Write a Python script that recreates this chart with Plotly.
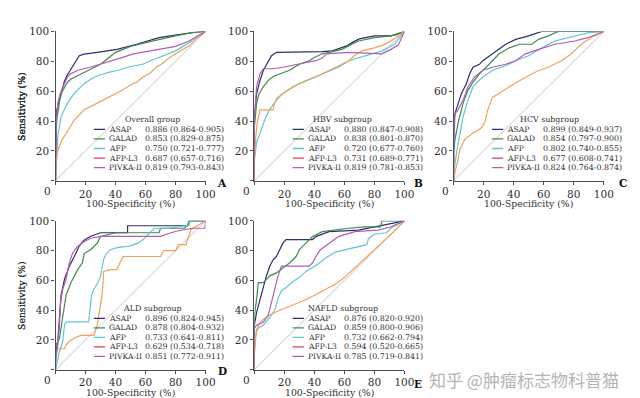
import plotly.graph_objects as go

# ---------------- data ----------------
MARKERS = ["ASAP", "GALAD", "AFP", "AFP-L3", "PIVKA-II"]
GROUP_TITLES = ["Overall group", "HBV subgroup", "HCV subgroup", "ALD subgroup", "NAFLD subgroup"]
PANEL_LETTERS = ["A", "B", "C", "D", "E"]

AUC_A = ["0.886 (0.864-0.905)", "0.853 (0.829-0.875)", "0.750 (0.721-0.777)", "0.687 (0.657-0.716)", "0.819 (0.793-0.843)"]
AUC_B = ["0.880 (0.847-0.908)", "0.838 (0.801-0.870)", "0.720 (0.677-0.760)", "0.731 (0.689-0.771)", "0.819 (0.781-0.853)"]
AUC_C = ["0.899 (0.849-0.937)", "0.854 (0.797-0.900)", "0.802 (0.740-0.855)", "0.677 (0.608-0.741)", "0.824 (0.764-0.874)"]
AUC_D = ["0.896 (0.824-0.945)", "0.878 (0.804-0.932)", "0.733 (0.641-0.811)", "0.629 (0.534-0.718)", "0.851 (0.772-0.911)"]
AUC_E = ["0.876 (0.820-0.920)", "0.859 (0.800-0.906)", "0.732 (0.662-0.794)", "0.594 (0.520-0.665)", "0.785 (0.719-0.841)"]

# ROC points (100-specificity %, sensitivity %)
A_ASAP = [(0,0),(0,35),(0.5,45),(1,48),(2,52),(3,56),(4,60),(5,64),(6,67),(8,71),(10,74),(12,77),(13.5,80),(15.8,83.7),(19,84.8),(27.8,86),(41,88),(54,91.4),(60,93),(69,95.8),(80,97.5),(90,99),(95,99.8),(100,100)]
A_GALAD = [(0,0),(0,20),(0.5,35),(1,42),(2,50),(3,55),(4,59),(6,63),(8,66),(10,68),(14,70),(18,72),(22,74),(26,76),(30,78),(35,82),(40,86),(45,88),(50,90),(60,92.5),(70,95),(80,97),(90,99),(100,100)]
A_AFP = [(0,0),(0.5,15),(1.5,30),(3.7,43),(6,48),(8,52),(10,55),(12.5,58.5),(16,62),(19,65),(25,69),(30,71),(36,72.7),(42,74),(48,76),(58,78),(65,81),(70,83),(80,87),(89,92.5),(95,97),(100,100)]
A_AFPL3 = [(0,0),(0.4,14.5),(1.5,20),(2.6,23),(4,27),(6,30),(8,33),(10,36.5),(12,40),(14.7,43),(19,47.5),(25.6,50.8),(32,54),(36,56),(41,58.5),(45,61),(49.7,64),(54,66),(58.4,69.5),(63,72),(67,76),(72,79),(76,82.6),(80,85),(85,88),(90,91),(93.4,94.7),(97,97.5),(100,100)]
A_PIVKA = [(0,0),(0,25),(0.5,40),(1.5,52),(3,58),(5,63),(8,69.5),(10,71.6),(15,74),(23,76),(30,78),(41,81.5),(52,85),(63,87),(72,88.5),(80,90),(89,93.6),(95,97),(100,100)]

B_ASAP = [(0,0),(0,45),(1.5,58),(3.7,67),(6,74),(8,78),(11.4,83.7),(14.7,86),(30,86),(45,86.5),(52,87),(58,89),(62,90.5),(66,93),(70,95),(80,97),(91,97),(95,98),(100,100)]
B_GALAD = [(0,0),(0,36),(1.5,52),(3,58),(6,63),(10,68),(13,70),(17,71.6),(23.4,74),(30,78),(36.5,80.4),(40,82.5),(45,85),(52,86.5),(58.4,88),(64,91),(69.4,93.6),(80,95.8),(91,97),(100,100)]
B_AFP = [(0,0),(0,14),(1.5,25.5),(3.7,32),(7,41),(10,47.5),(14.7,54),(19,58.5),(25.6,63),(34,67),(45,71.6),(56,76),(63,80.4),(74,83.7),(85,87),(93.4,91.4),(100,100)]
B_AFPL3 = [(0,0),(0,15),(1,30),(2,40),(3.7,47.5),(12.5,47.5),(13.5,52),(14.7,55),(19,58.5),(27.8,64),(35,67),(41,69.5),(48,73),(54,76),(63,80.4),(67,84),(71.6,87),(80,89),(86,91),(91,93.6),(97.8,98),(100,100)]
B_PIVKA = [(0,0),(0,43),(1.5,63),(3.7,71.6),(6,75),(12.5,75),(19,76),(30,78),(41,80.4),(45,82),(48,85),(63,86),(75,85.5),(85,85),(91,88),(96,91),(100,100)]

C_ASAP = [(0,0),(0,39),(0.9,45),(3,52),(5.2,58.5),(8.5,65),(10.7,71.6),(12.9,76),(17.2,78),(19.4,80.4),(23.8,83.7),(28,87),(34.7,91.4),(41.3,94.7),(50,97),(58.7,100),(100,100)]
C_GALAD = [(0,0),(0,19),(0.9,27.7),(3,38.7),(6.3,52),(9.6,60.7),(12.9,66),(17.2,71.6),(21.6,76),(26,80.4),(30.3,85),(37,89),(43.7,91.4),(52,91.4),(56.6,94.7),(63,97),(69.7,100),(100,100)]
C_AFP = [(0,0),(0.4,8),(2,19),(4.1,32),(6.3,43),(9.6,54),(12.9,63),(19.4,69.5),(26,74),(34.7,77),(41.3,80.4),(50,83.7),(58.7,89),(67.5,93.6),(80.6,97),(89.3,99),(100,100)]
C_AFPL3 = [(0,0),(0.9,5.7),(3,14.5),(4.1,21),(7.4,27.7),(10.7,30),(12.9,32),(17.2,34.3),(19.4,36.5),(21,40),(22.7,47.5),(26,56),(30.3,58.5),(37,63),(43.7,67),(50,70.5),(56.6,73.8),(63,76),(71.8,80.4),(78.4,85),(85,91.4),(91.5,95.8),(100,100)]
C_PIVKA = [(0,0),(0,19),(0.9,45),(3,47.5),(6.3,54),(9.6,63),(14,69.5),(19.4,74),(26,76),(34.7,78),(41.3,80.4),(47.8,85),(56.6,88),(67.5,91.4),(80.6,93.6),(89.3,95.8),(100,100)]

D_ASAP = [(0,0),(0,10),(1.5,19),(2.6,36),(3.7,50),(6,61),(9.2,69.5),(12.5,76),(15.8,83),(19,87),(23.4,89.6),(30,92),(40,92),(48,92),(48,96.7),(70,96.7),(88,96.7),(89,100),(100,100)]
D_GALAD = [(0,0),(0,16),(2.6,21),(4.8,36),(7,50),(10.3,58.5),(14.7,67),(18,72),(19,78),(23.4,80.6),(27.8,85),(30,89.4),(40,92),(55,92),(69,92),(70,95),(86,95),(88,97),(90,100),(100,100)]
D_AFP = [(0,0),(1,5.5),(2.6,12),(4.8,19),(6,30),(7,32),(15,32),(22,32),(23,40),(24,50),(25.6,54),(28,58),(30,63),(32,74),(34,78),(36.5,80.6),(41,82),(49.7,83),(55,85),(58.4,87.4),(62.8,91.8),(66,95),(75,95),(89,97),(89,100),(100,100)]
D_AFPL3 = [(0,0),(0,14),(6,14),(7,16.5),(9.2,19),(12.5,21),(16.8,23),(25.6,23),(27.8,30),(29,38),(30,43),(31,50),(31.7,58.5),(32,66),(36,67),(41,67.3),(43,72),(45,76),(60,76),(70,76),(72,80),(80,80),(82,84),(87,84),(88,88),(89,90),(90,94),(95,97),(100,100)]
D_PIVKA = [(0,0),(0,5.5),(1.5,16.5),(2.6,30),(3.3,45),(4.8,54),(7,60.7),(9.2,71.7),(11.4,78.4),(14.7,82.8),(19,86),(23.4,88.3),(30,89.6),(50,89.6),(70,89.6),(74,91),(80.3,93),(91,95),(99.5,95),(100,100)]

E_ASAP = [(0,0),(0,30),(1.5,38.6),(3.7,47.5),(6,56),(8,63),(10.3,69.5),(12.5,74),(14.7,76),(16.8,80.6),(19,85),(21,87.4),(30,87.4),(38.7,87.4),(41,89.4),(49.7,92.7),(69.4,93.8),(80.3,96),(89,98),(100,100)]
E_GALAD = [(0,0),(0,36),(1.5,47.5),(2.6,58.5),(6,58.5),(10.3,63),(14.7,65),(19,68.4),(23.4,71.7),(27.8,76),(30,80.6),(34.4,85),(38.7,89.4),(45.3,92.7),(55,94),(62.8,95),(73.7,96),(84,96),(85,100),(100,100)]
E_AFP = [(0,0),(0,18),(1.5,27),(6,30),(10.3,35),(13.6,40),(15.8,48),(18,53),(21,55),(25.6,59),(30,62),(34.4,66),(41,70),(47.5,75),(54,79),(62.8,81),(71.6,83),(75,84),(76,88),(80,91),(88,92),(91,95),(100,100)]
E_AFPL3 = [(0,0),(0,10),(1,22),(2,28),(3,30),(5,33),(8,35),(10,36.5),(15,39),(20,41),(25,43),(30,45),(35,47.3),(40,50),(45,52.5),(50,55),(55,58),(60,62),(70,71),(80,80.5),(90,90),(100,100)]
E_PIVKA = [(0,0),(0,27.6),(1.5,29.8),(6,32),(9.2,36.4),(11.4,45),(13.6,54),(15.8,63),(18,69.5),(25.6,69.5),(36.5,69.5),(39,72),(41,76),(44,80.6),(49.7,85),(56,89.4),(67,92.7),(82.5,93.8),(91,96),(100,100)]

TICKS = [0, 20, 40, 60, 80, 100]

# ---------------- styling ----------------
CURVE_COLORS = ["#2e2e6c", "#3e8c4e", "#62c6cf", "#f2a057", "#b55cb5"]
LEGEND_COLORS = ["#2e2e6c", "#3e8c4e", "#62c6cf", "#df3f5c", "#b55cb5"]
W, H = 640, 398
SERIF = "DejaVu Serif"
TXT = "#2f2f2f"

PANEL_PX = [(48.3, 200.7), (250.3, 402.7), (452.7, 605.3), (48.3, 200.7), (250.3, 402.7)]
PANEL_PY = [(17.7, 169.3), (17.7, 169.3), (17.7, 169.3), (210, 361), (210, 361)]
LETTER_POS = [(217, 172), (417, 172), (625, 172), (218, 362), (416, 376)]
LEG_TITLE_X = [64.8, 58.9, 63.8, 64.5, 58.9]

PANELS = [
    [A_ASAP, A_GALAD, A_AFP, A_AFPL3, A_PIVKA],
    [B_ASAP, B_GALAD, B_AFP, B_AFPL3, B_PIVKA],
    [C_ASAP, C_GALAD, C_AFP, C_AFPL3, C_PIVKA],
    [D_ASAP, D_GALAD, D_AFP, D_AFPL3, D_PIVKA],
    [E_ASAP, E_GALAD, E_AFP, E_AFPL3, E_PIVKA],
]
AUCS = [AUC_A, AUC_B, AUC_C, AUC_D, AUC_E]


def pxx(p):
    return p / W


def pxy(p):
    return 1 - p / H


fig = go.Figure()
annotations = []
shapes = []

for i, curves in enumerate(PANELS):
    sfx = "" if i == 0 else str(i + 1)
    xref, yref = "x" + sfx, "y" + sfx
    # diagonal reference
    fig.add_trace(go.Scatter(x=[0, 100], y=[0, 100], mode="lines",
                             line=dict(color="#dadada", width=1.2),
                             xaxis=xref, yaxis=yref, showlegend=False, hoverinfo="skip"))
    for k, pts in enumerate(curves):
        fig.add_trace(go.Scatter(x=[p[0] for p in pts], y=[p[1] for p in pts], mode="lines",
                                 line=dict(color=CURVE_COLORS[k], width=1.2),
                                 name=MARKERS[k], xaxis=xref, yaxis=yref, showlegend=False))
    x0, x1 = PANEL_PX[i]
    y0, y1 = PANEL_PY[i]
    axcommon = dict(range=[0, 100], showgrid=False, zeroline=False, showline=True,
                    linecolor="#4d4d4d", linewidth=1.4, ticks="outside", ticklen=3,
                    tickwidth=1.2, tickcolor="#4d4d4d", tickvals=TICKS,
                    ticktext=[""] + [str(t) for t in TICKS[1:]],
                    tickfont=dict(family=SERIF, size=10.5, color=TXT), fixedrange=True)
    fig.layout["xaxis" + sfx] = dict(axcommon, domain=[pxx(x0), pxx(x1)], anchor=yref)
    fig.layout["yaxis" + sfx] = dict(axcommon, domain=[pxy(y1), pxy(y0)], anchor=xref)

    # corner "0"
    annotations.append(dict(x=pxx(x0 - 8), y=pxy(y1 + 10.7), xref="paper", yref="paper",
                            text="0", showarrow=False, xanchor="center", yanchor="middle",
                            font=dict(family=SERIF, size=10.5, color=TXT)))
    # axis titles
    annotations.append(dict(x=pxx(13), y=pxy((y0 + y1) / 2), xref="paper", yref="paper",
                            text="Sensitivity (%)", textangle=-90, showarrow=False,
                            xanchor="center", yanchor="middle",
                            font=dict(family=SERIF, size=9.3, color=TXT)))
    annotations.append(dict(x=pxx((x0 + x1) / 2), y=pxy(y1 + 23), xref="paper", yref="paper",
                            text="100-Specificity (%)", showarrow=False,
                            xanchor="center", yanchor="middle",
                            font=dict(family=SERIF, size=9.3, color=TXT)))
    # panel letter
    lx, ly = LETTER_POS[i]
    annotations.append(dict(x=pxx(lx), y=pxy(ly), xref="paper", yref="paper",
                            text="<b>" + PANEL_LETTERS[i] + "</b>", showarrow=False,
                            xanchor="center", yanchor="middle",
                            font=dict(family=SERIF, size=10.5, color="#111111")))
    # legend block
    annotations.append(dict(x=LEG_TITLE_X[i], y=41, xref=xref, yref=yref,
                            text=GROUP_TITLES[i], showarrow=False,
                            xanchor="center", yanchor="middle",
                            font=dict(family=SERIF, size=7.9, color=TXT)))
    for k in range(5):
        yy = 34.4 - 6.4 * k
        shapes.append(dict(type="line", xref=xref, yref=yref, x0=25.5, x1=33, y0=yy, y1=yy,
                           line=dict(color=LEGEND_COLORS[k], width=1.3)))
        annotations.append(dict(x=34.3, y=yy, xref=xref, yref=yref, text=MARKERS[k],
                                showarrow=False, xanchor="left", yanchor="middle",
                                font=dict(family=SERIF, size=7.6, color=TXT)))
        annotations.append(dict(x=58.4, y=yy, xref=xref, yref=yref, text=AUCS[i][k],
                                showarrow=False, xanchor="left", yanchor="middle",
                                font=dict(family=SERIF, size=7.9, color=TXT)))

# watermark
annotations.append(dict(x=pxx(426), y=pxy(371), xref="paper", yref="paper",
                        text="知乎 @肿瘤标志物科普猫", showarrow=False,
                        xanchor="left", yanchor="middle",
                        font=dict(family="Noto Sans CJK SC", size=17, color="#b4b4b4")))

fig.update_layout(width=W, height=H, margin=dict(l=0, r=0, t=0, b=0),
                  paper_bgcolor="white", plot_bgcolor="white",
                  annotations=annotations, shapes=shapes, showlegend=False)

fig.write_html("out.html")
